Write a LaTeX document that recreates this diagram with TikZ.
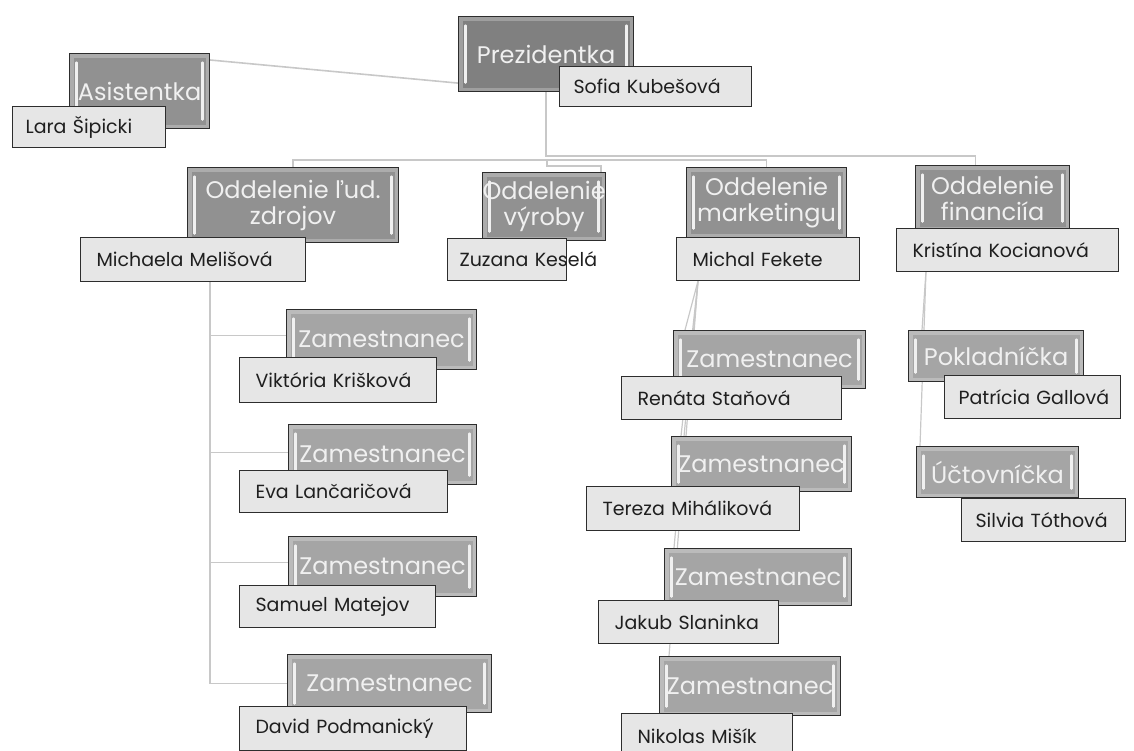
\documentclass[tikz,border=0pt]{standalone}
\usepackage{fontspec}
\setmainfont{Poppins}
\usetikzlibrary{backgrounds,calc}
\definecolor{prezgray}{RGB}{128,128,128}
\definecolor{deptgray}{RGB}{145,145,145}
\definecolor{empgray}{RGB}{165,165,165}
\definecolor{namegray}{RGB}{230,230,230}
\definecolor{conngray}{RGB}{200,200,200}
\definecolor{edgegray}{RGB}{45,45,45}
\newcommand\titlefont{\fontsize{24}{26}\selectfont}
\newcommand\namefont{\fontsize{19}{22}\selectfont}
\tikzset{
  titlebox/.style={draw=edgegray, line width=1.1pt, fill=deptgray, text=white!94!black,
    font=\titlefont, inner sep=0pt, anchor=north west, align=center,
    path picture={
      \draw[white, opacity=0.25, line width=4pt]
        ([xshift=2pt,yshift=-2pt]path picture bounding box.north west) rectangle
        ([xshift=-2pt,yshift=2pt]path picture bounding box.south east);
      \draw[white!88!gray, line width=2.5pt, line cap=round]
        ([xshift=7pt,yshift=-9pt]path picture bounding box.north west) --
        ([xshift=7pt,yshift=9pt]path picture bounding box.south west);
      \draw[white!88!gray, line width=2.5pt, line cap=round]
        ([xshift=-7pt,yshift=-9pt]path picture bounding box.north east) --
        ([xshift=-7pt,yshift=9pt]path picture bounding box.south east);
    }},
  namebox/.style={draw=edgegray, line width=1.1pt, fill=namegray, text=black!88,
    font=\namefont, anchor=north west, align=left, inner xsep=16pt, inner ysep=0pt},
  conn/.style={draw=conngray, line width=1.6pt},
  thin conn/.style={draw=conngray, line width=1.2pt}
}
\begin{document}
\begin{tikzpicture}[x=1pt,y=-1pt]
\useasboundingbox (0,0) rectangle (1134,751);
\clip (0,0) rectangle (1134,751);
% top level
\node[titlebox, fill=prezgray, minimum width=175pt, minimum height=75pt] (prez) at (458,16) {Prezidentka};
\node[namebox, minimum height=40pt, text width=164pt, inner xsep=14pt] (sofia) at (559,66) {Sofia Kubešová};
\node[titlebox, minimum width=140pt, minimum height=75pt] (asis) at (69,53) {Asistentka};
\node[namebox, minimum height=41pt, text width=127pt, inner xsep=13pt] (lara) at (12,106) {Lara Šipicki};
% departments
\node[titlebox, minimum width=211pt, minimum height=75pt] (hr) at (187,167) {Oddelenie ľud.\\zdrojov};
\node[namebox, minimum height=44pt, text width=193pt] (michaela) at (80,237) {Michaela Melišová};
\node[titlebox, minimum width=84pt, minimum height=68pt] (vyr) at (482,172) {Oddelenie\\výroby};
\node[namebox, minimum height=42pt, text width=95pt, inner xsep=12pt] (zuzana) at (447,238) {\mbox{Zuzana Keselá}};
\node[titlebox, minimum width=160pt, minimum height=70pt] (mkt) at (686,167) {Oddelenie\\marketingu};
\node[namebox, minimum height=43pt, text width=151pt] (michal) at (676,237) {Michal Fekete};
\node[titlebox, minimum width=154pt, minimum height=65pt] (fin) at (915,165) {Oddelenie\\financiía};
\node[namebox, minimum height=43pt, text width=190pt] (kristina) at (896,228) {Kristína Kocianová};
% HR employees
\node[titlebox, fill=empgray, minimum width=190pt, minimum height=60pt] (z1) at (286,309) {Zamestnanec};
\node[namebox, minimum height=45pt, text width=165pt] (viktoria) at (239,357) {Viktória Krišková};
\node[titlebox, fill=empgray, minimum width=188pt, minimum height=60pt] (z2) at (288,424) {Zamestnanec};
\node[namebox, minimum height=42pt, text width=176pt] (eva) at (239,470) {Eva Lančaričová};
\node[titlebox, fill=empgray, minimum width=188pt, minimum height=60pt] (z3) at (288,536) {Zamestnanec};
\node[namebox, minimum height=42pt, text width=164pt] (samuel) at (239,585) {Samuel Matejov};
\node[titlebox, fill=empgray, minimum width=204pt, minimum height=58pt] (z4) at (287,654) {Zamestnanec};
\node[namebox, minimum height=44pt, text width=195pt] (david) at (239,706) {David Podmanický};
% marketing employees
\node[titlebox, fill=empgray, minimum width=192pt, minimum height=58pt] (m1) at (673,330) {Zamestnanec};
\node[namebox, minimum height=43pt, text width=188pt] (renata) at (621,376) {Renáta Staňová};
\node[titlebox, fill=empgray, minimum width=180pt, minimum height=55pt] (m2) at (671,436) {Zamestnanec};
\node[namebox, minimum height=44pt, text width=181pt] (tereza) at (586,486) {Tereza Miháliková};
\node[titlebox, fill=empgray, minimum width=187pt, minimum height=57pt] (m3) at (664,548) {Zamestnanec};
\node[namebox, minimum height=43pt, text width=148pt] (jakub) at (598,600) {Jakub Slaninka};
\node[titlebox, fill=empgray, minimum width=181pt, minimum height=59pt] (m4) at (659,656) {Zamestnanec};
\node[namebox, minimum height=45pt, text width=139pt] (nikolas) at (621,713) {Nikolas Mišík};
% finance employees
\node[titlebox, fill=empgray, minimum width=175pt, minimum height=51pt] (pok) at (908,330) {Pokladníčka};
\node[namebox, minimum height=43pt, text width=148pt, inner xsep=14pt] (patricia) at (944,375) {\mbox{Patrícia Gallová}};
\node[titlebox, fill=empgray, minimum width=162pt, minimum height=51pt] (uct) at (916,446) {Účtovníčka};
\node[namebox, minimum height=43pt, text width=136pt, inner xsep=14pt] (silvia) at (961,498) {\mbox{Silvia Tóthová}};
% connectors
\coordinate (j1) at (547,156);
\coordinate (j2) at (547,160);
\coordinate (hrb) at (210,281);
\coordinate (mb) at (698,281);
\coordinate (fb) at (926,271);
\begin{pgfonlayer}{background}
\draw[conn] ([yshift=-7pt]asis.north east) -- ([yshift=9pt]prez.south west);
\draw[conn] (prez.south) |- (j1) -| ([xshift=-17pt]fin.north);
\draw[conn] (j2) -| (hr.north);
\draw[conn] (j2) -| (mkt.north);
\draw[conn] (j2) -- ++(0,6) -| ([xshift=-5pt]vyr.north east);
\draw[conn] (hrb) |- ([yshift=4pt]z1.west);
\draw[conn] (hrb) |- ([yshift=2pt]z2.west);
\draw[conn] (hrb) |- ([yshift=4pt]z3.west);
\draw[conn] (hrb) |- (z4.west);
\draw[thin conn] (mb) -- ([xshift=12pt]m1.north west);
\draw[thin conn] (mb) -- ([xshift=10pt]m2.north west);
\draw[thin conn] (mb) -- ([xshift=10pt]m3.north west);
\draw[thin conn] (mb) -- ([xshift=10pt]m4.north west);
\draw[thin conn] (fb) -- ([xshift=14pt]pok.north west);
\draw[thin conn] (fb) -- ([xshift=4pt]uct.north west);
\end{pgfonlayer}
\end{tikzpicture}
\end{document}
